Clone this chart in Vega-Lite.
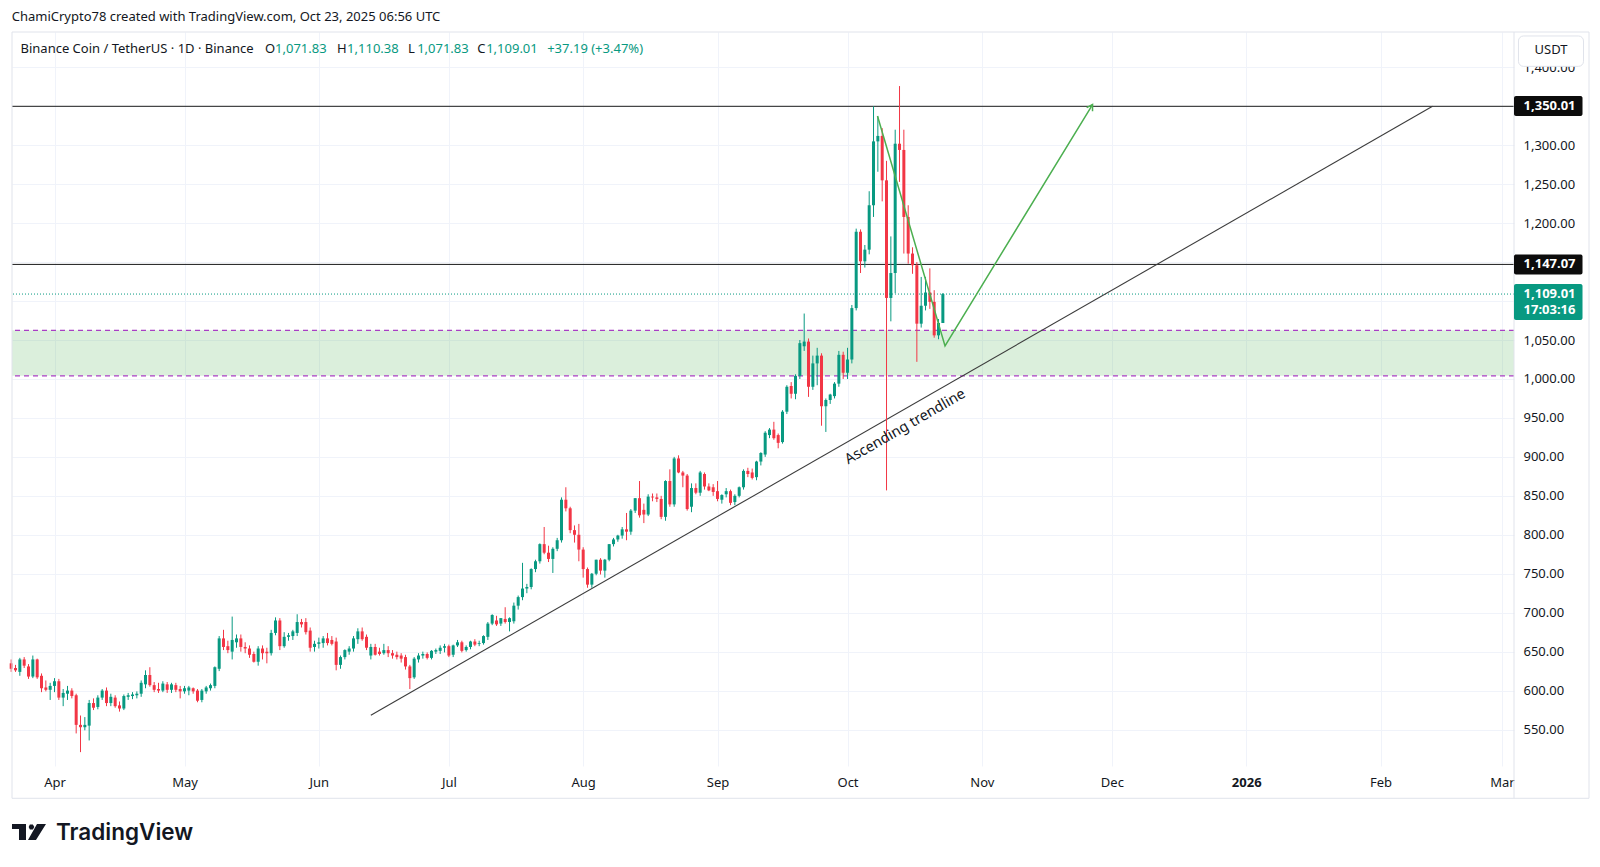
{
  "$schema": "https://vega.github.io/schema/vega-lite/v6.json",
  "width": 1502,
  "height": 734,
  "autosize": "none",
  "padding": {"left": 12, "top": 32, "right": 86, "bottom": 101},
  "background": "white",
  "config": {
    "view": {"stroke": null},
    "font": "Noto Sans",
    "scale": {"continuousPadding": 0},
    "axis": {"gridColor": "#f0f3fa", "ticks": false, "domain": false, "labelColor": "#131722", "labelFontSize": 13, "labelFont": "Noto Sans"},
    "axisY": {"orient": "right"}
  },
  "datasets": {
    "candles": [
      {"d":"2025-03-22","o":635,"h":640,"l":624,"c":628},
      {"d":"2025-03-23","o":629,"h":633,"l":624,"c":626},
      {"d":"2025-03-24","o":624,"h":642,"l":619,"c":640},
      {"d":"2025-03-25","o":640,"h":643,"l":629,"c":632},
      {"d":"2025-03-26","o":631,"h":634,"l":615,"c":618},
      {"d":"2025-03-27","o":618,"h":645,"l":616,"c":640},
      {"d":"2025-03-28","o":640,"h":641,"l":615,"c":617},
      {"d":"2025-03-29","o":619,"h":622,"l":598,"c":603},
      {"d":"2025-03-30","o":604,"h":613,"l":599,"c":601},
      {"d":"2025-03-31","o":601,"h":610,"l":588,"c":606},
      {"d":"2025-04-01","o":606,"h":616,"l":598,"c":612},
      {"d":"2025-04-02","o":612,"h":615,"l":588,"c":591},
      {"d":"2025-04-03","o":591,"h":602,"l":580,"c":597},
      {"d":"2025-04-04","o":596,"h":606,"l":588,"c":600},
      {"d":"2025-04-05","o":600,"h":603,"l":590,"c":593},
      {"d":"2025-04-06","o":594,"h":596,"l":545,"c":556},
      {"d":"2025-04-07","o":556,"h":568,"l":521,"c":553},
      {"d":"2025-04-08","o":553,"h":566,"l":549,"c":556},
      {"d":"2025-04-09","o":555,"h":588,"l":536,"c":584},
      {"d":"2025-04-10","o":584,"h":590,"l":575,"c":578},
      {"d":"2025-04-11","o":579,"h":594,"l":576,"c":591},
      {"d":"2025-04-12","o":591,"h":602,"l":588,"c":600},
      {"d":"2025-04-13","o":600,"h":604,"l":580,"c":584},
      {"d":"2025-04-14","o":584,"h":596,"l":580,"c":592},
      {"d":"2025-04-15","o":591,"h":594,"l":578,"c":580},
      {"d":"2025-04-16","o":581,"h":586,"l":573,"c":577},
      {"d":"2025-04-17","o":577,"h":595,"l":575,"c":593},
      {"d":"2025-04-18","o":592,"h":597,"l":588,"c":594},
      {"d":"2025-04-19","o":593,"h":598,"l":589,"c":595},
      {"d":"2025-04-20","o":594,"h":599,"l":590,"c":596},
      {"d":"2025-04-21","o":596,"h":613,"l":592,"c":610},
      {"d":"2025-04-22","o":608,"h":626,"l":603,"c":620},
      {"d":"2025-04-23","o":620,"h":630,"l":605,"c":607},
      {"d":"2025-04-24","o":607,"h":611,"l":598,"c":601},
      {"d":"2025-04-25","o":602,"h":610,"l":597,"c":600},
      {"d":"2025-04-26","o":600,"h":612,"l":598,"c":609},
      {"d":"2025-04-27","o":608,"h":611,"l":597,"c":601},
      {"d":"2025-04-28","o":601,"h":610,"l":597,"c":608},
      {"d":"2025-04-29","o":607,"h":610,"l":598,"c":601},
      {"d":"2025-04-30","o":602,"h":606,"l":590,"c":599},
      {"d":"2025-05-01","o":599,"h":606,"l":596,"c":603},
      {"d":"2025-05-02","o":600,"h":606,"l":594,"c":604},
      {"d":"2025-05-03","o":603,"h":604,"l":596,"c":599},
      {"d":"2025-05-04","o":600,"h":602,"l":585,"c":587},
      {"d":"2025-05-05","o":588,"h":602,"l":585,"c":600},
      {"d":"2025-05-06","o":599,"h":606,"l":596,"c":604},
      {"d":"2025-05-07","o":603,"h":609,"l":600,"c":607},
      {"d":"2025-05-08","o":606,"h":631,"l":603,"c":630},
      {"d":"2025-05-09","o":628,"h":670,"l":625,"c":667},
      {"d":"2025-05-10","o":667,"h":678,"l":652,"c":656},
      {"d":"2025-05-11","o":657,"h":664,"l":648,"c":652},
      {"d":"2025-05-12","o":650,"h":695,"l":640,"c":665},
      {"d":"2025-05-13","o":662,"h":672,"l":655,"c":667},
      {"d":"2025-05-14","o":667,"h":672,"l":650,"c":656},
      {"d":"2025-05-15","o":656,"h":662,"l":648,"c":654},
      {"d":"2025-05-16","o":654,"h":658,"l":642,"c":646},
      {"d":"2025-05-17","o":647,"h":650,"l":636,"c":637},
      {"d":"2025-05-18","o":637,"h":657,"l":632,"c":654},
      {"d":"2025-05-19","o":654,"h":658,"l":640,"c":648},
      {"d":"2025-05-20","o":650,"h":655,"l":635,"c":648},
      {"d":"2025-05-21","o":648,"h":678,"l":645,"c":674},
      {"d":"2025-05-22","o":674,"h":694,"l":671,"c":690},
      {"d":"2025-05-23","o":690,"h":693,"l":652,"c":657},
      {"d":"2025-05-24","o":657,"h":675,"l":655,"c":669},
      {"d":"2025-05-25","o":669,"h":674,"l":664,"c":671},
      {"d":"2025-05-26","o":670,"h":678,"l":665,"c":676},
      {"d":"2025-05-27","o":674,"h":698,"l":670,"c":688},
      {"d":"2025-05-28","o":688,"h":692,"l":681,"c":685},
      {"d":"2025-05-29","o":688,"h":693,"l":672,"c":675},
      {"d":"2025-05-30","o":677,"h":681,"l":650,"c":655},
      {"d":"2025-05-31","o":656,"h":664,"l":650,"c":660},
      {"d":"2025-06-01","o":660,"h":668,"l":654,"c":662},
      {"d":"2025-06-02","o":661,"h":670,"l":655,"c":667},
      {"d":"2025-06-03","o":667,"h":674,"l":658,"c":661},
      {"d":"2025-06-04","o":665,"h":670,"l":658,"c":660},
      {"d":"2025-06-05","o":663,"h":668,"l":626,"c":633},
      {"d":"2025-06-06","o":633,"h":645,"l":628,"c":643},
      {"d":"2025-06-07","o":643,"h":653,"l":640,"c":652},
      {"d":"2025-06-08","o":650,"h":657,"l":646,"c":654},
      {"d":"2025-06-09","o":654,"h":670,"l":650,"c":667},
      {"d":"2025-06-10","o":666,"h":680,"l":660,"c":676},
      {"d":"2025-06-11","o":676,"h":681,"l":664,"c":666},
      {"d":"2025-06-12","o":669,"h":672,"l":652,"c":655},
      {"d":"2025-06-13","o":645,"h":660,"l":640,"c":656},
      {"d":"2025-06-14","o":656,"h":660,"l":645,"c":646},
      {"d":"2025-06-15","o":650,"h":655,"l":645,"c":647},
      {"d":"2025-06-16","o":648,"h":660,"l":646,"c":652},
      {"d":"2025-06-17","o":652,"h":657,"l":643,"c":648},
      {"d":"2025-06-18","o":648,"h":652,"l":641,"c":645},
      {"d":"2025-06-19","o":646,"h":650,"l":640,"c":643},
      {"d":"2025-06-20","o":645,"h":648,"l":636,"c":641},
      {"d":"2025-06-21","o":643,"h":646,"l":627,"c":631},
      {"d":"2025-06-22","o":631,"h":633,"l":602,"c":616},
      {"d":"2025-06-23","o":617,"h":643,"l":615,"c":641},
      {"d":"2025-06-24","o":640,"h":648,"l":636,"c":645},
      {"d":"2025-06-25","o":645,"h":650,"l":641,"c":647},
      {"d":"2025-06-26","o":647,"h":649,"l":640,"c":642},
      {"d":"2025-06-27","o":642,"h":652,"l":640,"c":651},
      {"d":"2025-06-28","o":650,"h":654,"l":647,"c":652},
      {"d":"2025-06-29","o":651,"h":658,"l":647,"c":655},
      {"d":"2025-06-30","o":655,"h":660,"l":649,"c":657},
      {"d":"2025-07-01","o":657,"h":659,"l":643,"c":645},
      {"d":"2025-07-02","o":646,"h":659,"l":643,"c":658},
      {"d":"2025-07-03","o":658,"h":665,"l":656,"c":662},
      {"d":"2025-07-04","o":662,"h":664,"l":649,"c":651},
      {"d":"2025-07-05","o":652,"h":658,"l":650,"c":656},
      {"d":"2025-07-06","o":656,"h":664,"l":653,"c":663},
      {"d":"2025-07-07","o":663,"h":666,"l":657,"c":659},
      {"d":"2025-07-08","o":660,"h":664,"l":657,"c":661},
      {"d":"2025-07-09","o":661,"h":671,"l":659,"c":670},
      {"d":"2025-07-10","o":669,"h":688,"l":665,"c":686},
      {"d":"2025-07-11","o":686,"h":698,"l":684,"c":697},
      {"d":"2025-07-12","o":690,"h":696,"l":683,"c":685},
      {"d":"2025-07-13","o":686,"h":693,"l":683,"c":693},
      {"d":"2025-07-14","o":692,"h":707,"l":686,"c":688},
      {"d":"2025-07-15","o":688,"h":694,"l":676,"c":693},
      {"d":"2025-07-16","o":689,"h":713,"l":686,"c":709},
      {"d":"2025-07-17","o":709,"h":722,"l":704,"c":720},
      {"d":"2025-07-18","o":720,"h":764,"l":716,"c":731},
      {"d":"2025-07-19","o":731,"h":737,"l":725,"c":733},
      {"d":"2025-07-20","o":733,"h":757,"l":730,"c":756},
      {"d":"2025-07-21","o":756,"h":768,"l":752,"c":766},
      {"d":"2025-07-22","o":766,"h":789,"l":763,"c":788},
      {"d":"2025-07-23","o":788,"h":810,"l":775,"c":777},
      {"d":"2025-07-24","o":777,"h":786,"l":765,"c":769},
      {"d":"2025-07-25","o":769,"h":784,"l":751,"c":782},
      {"d":"2025-07-26","o":782,"h":796,"l":779,"c":793},
      {"d":"2025-07-27","o":793,"h":848,"l":790,"c":845},
      {"d":"2025-07-28","o":845,"h":861,"l":830,"c":834},
      {"d":"2025-07-29","o":834,"h":836,"l":802,"c":806},
      {"d":"2025-07-30","o":806,"h":812,"l":790,"c":800},
      {"d":"2025-07-31","o":800,"h":814,"l":766,"c":781},
      {"d":"2025-08-01","o":781,"h":784,"l":745,"c":756},
      {"d":"2025-08-02","o":756,"h":758,"l":732,"c":736},
      {"d":"2025-08-03","o":736,"h":751,"l":732,"c":750},
      {"d":"2025-08-04","o":750,"h":768,"l":748,"c":768},
      {"d":"2025-08-05","o":768,"h":770,"l":749,"c":754},
      {"d":"2025-08-06","o":754,"h":769,"l":745,"c":768},
      {"d":"2025-08-07","o":768,"h":788,"l":766,"c":788},
      {"d":"2025-08-08","o":788,"h":796,"l":785,"c":794},
      {"d":"2025-08-09","o":794,"h":800,"l":791,"c":799},
      {"d":"2025-08-10","o":799,"h":810,"l":795,"c":807},
      {"d":"2025-08-11","o":807,"h":828,"l":793,"c":804},
      {"d":"2025-08-12","o":804,"h":833,"l":800,"c":831},
      {"d":"2025-08-13","o":831,"h":847,"l":828,"c":847},
      {"d":"2025-08-14","o":847,"h":869,"l":822,"c":825},
      {"d":"2025-08-15","o":832,"h":840,"l":815,"c":826},
      {"d":"2025-08-16","o":826,"h":852,"l":824,"c":849},
      {"d":"2025-08-17","o":849,"h":853,"l":843,"c":848},
      {"d":"2025-08-18","o":848,"h":853,"l":842,"c":846},
      {"d":"2025-08-19","o":846,"h":850,"l":820,"c":823},
      {"d":"2025-08-20","o":823,"h":870,"l":818,"c":869},
      {"d":"2025-08-21","o":869,"h":884,"l":836,"c":839},
      {"d":"2025-08-22","o":839,"h":900,"l":836,"c":898},
      {"d":"2025-08-23","o":898,"h":902,"l":879,"c":880},
      {"d":"2025-08-24","o":880,"h":882,"l":861,"c":876},
      {"d":"2025-08-25","o":876,"h":878,"l":831,"c":833},
      {"d":"2025-08-26","o":836,"h":866,"l":829,"c":860},
      {"d":"2025-08-27","o":860,"h":866,"l":852,"c":854},
      {"d":"2025-08-28","o":854,"h":882,"l":850,"c":880},
      {"d":"2025-08-29","o":878,"h":880,"l":858,"c":862},
      {"d":"2025-08-30","o":862,"h":866,"l":856,"c":857},
      {"d":"2025-08-31","o":861,"h":865,"l":850,"c":855},
      {"d":"2025-09-01","o":856,"h":869,"l":843,"c":846},
      {"d":"2025-09-02","o":845,"h":852,"l":840,"c":851},
      {"d":"2025-09-03","o":852,"h":860,"l":848,"c":856},
      {"d":"2025-09-04","o":856,"h":858,"l":838,"c":841},
      {"d":"2025-09-05","o":842,"h":852,"l":838,"c":850},
      {"d":"2025-09-06","o":850,"h":862,"l":848,"c":861},
      {"d":"2025-09-07","o":861,"h":884,"l":858,"c":882},
      {"d":"2025-09-08","o":882,"h":886,"l":874,"c":878},
      {"d":"2025-09-09","o":880,"h":885,"l":871,"c":873},
      {"d":"2025-09-10","o":874,"h":895,"l":870,"c":894},
      {"d":"2025-09-11","o":894,"h":906,"l":889,"c":905},
      {"d":"2025-09-12","o":903,"h":933,"l":900,"c":931},
      {"d":"2025-09-13","o":928,"h":937,"l":924,"c":935},
      {"d":"2025-09-14","o":935,"h":945,"l":922,"c":924},
      {"d":"2025-09-15","o":928,"h":930,"l":911,"c":918},
      {"d":"2025-09-16","o":919,"h":960,"l":917,"c":958},
      {"d":"2025-09-17","o":958,"h":992,"l":955,"c":990},
      {"d":"2025-09-18","o":991,"h":996,"l":975,"c":981},
      {"d":"2025-09-19","o":981,"h":1006,"l":974,"c":1004},
      {"d":"2025-09-20","o":1004,"h":1050,"l":1000,"c":1046},
      {"d":"2025-09-21","o":1042,"h":1084,"l":1036,"c":1048},
      {"d":"2025-09-22","o":1048,"h":1052,"l":977,"c":990},
      {"d":"2025-09-23","o":990,"h":1030,"l":986,"c":1020},
      {"d":"2025-09-24","o":1020,"h":1040,"l":992,"c":1030},
      {"d":"2025-09-25","o":1030,"h":1033,"l":940,"c":965},
      {"d":"2025-09-26","o":965,"h":975,"l":932,"c":973},
      {"d":"2025-09-27","o":973,"h":981,"l":968,"c":980},
      {"d":"2025-09-28","o":978,"h":996,"l":975,"c":994},
      {"d":"2025-09-29","o":994,"h":1036,"l":990,"c":1031},
      {"d":"2025-09-30","o":1031,"h":1035,"l":1000,"c":1008},
      {"d":"2025-10-01","o":1008,"h":1040,"l":1000,"c":1025},
      {"d":"2025-10-02","o":1025,"h":1095,"l":1020,"c":1091},
      {"d":"2025-10-03","o":1091,"h":1193,"l":1088,"c":1189},
      {"d":"2025-10-04","o":1189,"h":1192,"l":1136,"c":1151},
      {"d":"2025-10-05","o":1151,"h":1172,"l":1143,"c":1166},
      {"d":"2025-10-06","o":1166,"h":1241,"l":1160,"c":1223},
      {"d":"2025-10-07","o":1223,"h":1350,"l":1208,"c":1305},
      {"d":"2025-10-08","o":1305,"h":1337,"l":1266,"c":1312},
      {"d":"2025-10-09","o":1312,"h":1322,"l":1228,"c":1255},
      {"d":"2025-10-10","o":1255,"h":1280,"l":857,"c":1104},
      {"d":"2025-10-11","o":1104,"h":1183,"l":1074,"c":1136},
      {"d":"2025-10-12","o":1136,"h":1320,"l":1110,"c":1302},
      {"d":"2025-10-13","o":1302,"h":1376,"l":1253,"c":1294},
      {"d":"2025-10-14","o":1294,"h":1320,"l":1161,"c":1208},
      {"d":"2025-10-15","o":1208,"h":1223,"l":1148,"c":1161},
      {"d":"2025-10-16","o":1161,"h":1169,"l":1135,"c":1146},
      {"d":"2025-10-17","o":1146,"h":1150,"l":1022,"c":1071},
      {"d":"2025-10-18","o":1071,"h":1131,"l":1066,"c":1094},
      {"d":"2025-10-19","o":1094,"h":1131,"l":1088,"c":1111},
      {"d":"2025-10-20","o":1111,"h":1142,"l":1090,"c":1099},
      {"d":"2025-10-21","o":1099,"h":1114,"l":1053,"c":1056},
      {"d":"2025-10-22","o":1056,"h":1077,"l":1051,"c":1072},
      {"d":"2025-10-23","o":1071.83,"h":1110.38,"l":1071.83,"c":1109.01}
    ],
    "zone": [{"top": 1062.5, "bottom": 1004}],
    "zoneEdges": [{"price": 1062.5}, {"price": 1004}],
    "levels": [{"price": 1350.01}, {"price": 1147.07}],
    "trend": [
      {"date": "2025-06-13T00:00:00Z", "price": 568.3},
      {"date": "2026-02-13T00:00:00Z", "price": 1350.01}
    ],
    "projection": [
      {"i": 0, "date": "2025-10-07T22:00:00Z", "price": 1337.6},
      {"i": 1, "date": "2025-10-23T12:00:00Z", "price": 1042.5},
      {"i": 2, "date": "2025-11-26T13:00:00Z", "price": 1352.3}
    ]
  },
  "layer": [
    {
      "data": {"name": "candles"},
      "mark": {"type": "rule", "opacity": 0},
      "encoding": {
        "x": {
          "field": "d", "type": "temporal",
          "scale": {
            "type": "utc", "nice": false, "padding": 0,
            "domain": [
              {"year": 2025, "month": 3, "date": 22, "hours": 4, "minutes": 34, "utc": true},
              {"year": 2026, "month": 3, "date": 3, "hours": 19, "minutes": 12, "utc": true}
            ]
          },
          "axis": {
            "title": null, "orient": "bottom", "zindex": 0,
            "values": [
              {"year": 2025, "month": 4, "date": 1, "utc": true},
              {"year": 2025, "month": 5, "date": 1, "utc": true},
              {"year": 2025, "month": 6, "date": 1, "utc": true},
              {"year": 2025, "month": 7, "date": 1, "utc": true},
              {"year": 2025, "month": 8, "date": 1, "utc": true},
              {"year": 2025, "month": 9, "date": 1, "utc": true},
              {"year": 2025, "month": 10, "date": 1, "utc": true},
              {"year": 2025, "month": 11, "date": 1, "utc": true},
              {"year": 2025, "month": 12, "date": 1, "utc": true},
              {"year": 2026, "month": 1, "date": 1, "utc": true},
              {"year": 2026, "month": 2, "date": 1, "utc": true},
              {"year": 2026, "month": 3, "date": 1, "utc": true}
            ],
            "labelExpr": "utcmonth(datum.value) === 0 ? utcFormat(datum.value, '%Y') : utcFormat(datum.value, '%b')",
            "labelFontWeight": {"condition": {"test": "utcmonth(datum.value) === 0", "value": "bold"}, "value": "normal"},
            "grid": true, "gridColor": "#f0f3fa", "ticks": false, "domain": false,
            "labelPadding": 10, "labelFontSize": 13, "labelColor": "#131722", "labelFont": "Noto Sans",
            "labelOverlap": false, "labelFlush": false
          }
        },
        "y": {
          "field": "l", "type": "quantitative",
          "scale": {"domain": [503.2, 1445.4], "nice": false, "zero": false, "padding": 0},
          "axis": {
            "title": null, "orient": "right", "zindex": 0,
            "values": [550, 600, 650, 700, 750, 800, 850, 900, 950, 1000, 1050, 1100, 1150, 1200, 1250, 1300, 1350, 1400],
            "format": ",.2f",
            "labelExpr": "indexof([1100, 1150, 1350], datum.value) >= 0 ? '' : datum.label",
            "grid": true, "gridColor": "#f0f3fa", "ticks": false, "domain": false,
            "labelPadding": 9, "labelFontSize": 13, "labelColor": "#131722", "labelFont": "Noto Sans",
            "labelOverlap": false, "labelFlush": false
          }
        },
        "y2": {"field": "h"}
      }
    },
    {
      "data": {"name": "zone"},
      "mark": {"type": "rect", "color": "#4caf50", "opacity": 0.2},
      "encoding": {
        "y": {"field": "top", "type": "quantitative", "axis": {"title": null}},
        "y2": {"field": "bottom"}
      }
    },
    {
      "data": {"name": "zoneEdges"},
      "mark": {"type": "rule", "color": "#a93fc4", "strokeDash": [5, 4], "strokeWidth": 1.2},
      "encoding": {"y": {"field": "price", "type": "quantitative", "axis": {"title": null}}}
    },
    {
      "data": {"name": "levels"},
      "mark": {"type": "rule", "color": "#1b1b1b", "strokeWidth": 1},
      "encoding": {"y": {"field": "price", "type": "quantitative", "axis": {"title": null}}}
    },
    {
      "data": {"values": [{"price": 1109.01}]},
      "mark": {"type": "rule", "color": "#089981", "strokeDash": [1, 2], "strokeWidth": 1},
      "encoding": {"y": {"field": "price", "type": "quantitative", "axis": {"title": null}}}
    },
    {
      "data": {"name": "trend"},
      "mark": {"type": "line", "color": "#3c3c3c", "strokeWidth": 1.1},
      "encoding": {
        "x": {"field": "date", "type": "temporal", "axis": {"title": null}},
        "y": {"field": "price", "type": "quantitative", "axis": {"title": null}}
      }
    },
    {
      "data": {"name": "candles"},
      "mark": {"type": "rule", "strokeWidth": 1},
      "encoding": {
        "x": {"field": "d", "type": "temporal", "axis": {"title": null}},
        "y": {"field": "l", "type": "quantitative", "axis": {"title": null}},
        "y2": {"field": "h"},
        "color": {"condition": {"test": "datum.c >= datum.o", "value": "#089981"}, "value": "#f23645"}
      }
    },
    {
      "data": {"name": "candles"},
      "mark": {"type": "bar", "size": 3},
      "encoding": {
        "x": {"field": "d", "type": "temporal", "axis": {"title": null}},
        "y": {"field": "o", "type": "quantitative", "axis": {"title": null}},
        "y2": {"field": "c"},
        "color": {"condition": {"test": "datum.c >= datum.o", "value": "#089981"}, "value": "#f23645"}
      }
    },
    {
      "data": {"name": "projection"},
      "mark": {"type": "line", "color": "#4caf50", "strokeWidth": 1.5},
      "encoding": {
        "x": {"field": "date", "type": "temporal", "axis": {"title": null}},
        "y": {"field": "price", "type": "quantitative", "axis": {"title": null}},
        "order": {"field": "i"}
      }
    },
    {
      "data": {"name": "projection"},
      "transform": [{"filter": "datum.i == 2"}],
      "mark": {
        "type": "point", "shape": "M-0.6,1L0,0L0.6,1", "size": 130, "angle": 31,
        "filled": false, "stroke": "#4caf50", "strokeWidth": 1.5, "opacity": 1
      },
      "encoding": {
        "x": {"field": "date", "type": "temporal", "axis": {"title": null}},
        "y": {"field": "price", "type": "quantitative", "axis": {"title": null}}
      }
    },
    {
      "data": {"values": [{}]},
      "mark": {
        "type": "text", "text": "Ascending trendline", "angle": -30, "fontSize": 14.5,
        "color": "#131722", "align": "center", "baseline": "middle", "font": "Noto Sans"
      },
      "encoding": {
        "x": {"datum": {"year": 2025, "month": 10, "date": 14, "hours": 8, "utc": true}, "type": "temporal", "axis": {"title": null}},
        "y": {"datum": 938.4, "type": "quantitative", "axis": {"title": null}}
      }
    },
    {
      "data": {"values": [{}]},
      "mark": {"type": "text", "text": "ChamiCrypto78 created with TradingView.com, Oct 23, 2025 06:56 UTC", "align": "left", "baseline": "alphabetic", "fontSize": 13, "color": "#131722"},
      "encoding": {
        "x": {"datum": {"year": 2025, "month": 3, "date": 22, "hours": 2, "minutes": 52, "utc": true}, "type": "temporal", "axis": {"title": null}},
        "y": {"datum": 1459.2, "type": "quantitative", "axis": {"title": null}}
      }
    },
    {
      "data": {"values": [{}]},
      "encoding": {"y": {"datum": 1418.1, "type": "quantitative", "axis": {"title": null}}},
      "layer": [
        {
          "mark": {"type": "text", "text": "Binance Coin / TetherUS · 1D · Binance", "align": "left", "baseline": "alphabetic", "fontSize": 13, "color": "#131722"},
          "encoding": {"x": {"datum": {"year": 2025, "month": 3, "date": 24, "hours": 3, "minutes": 37, "utc": true}, "type": "temporal", "axis": {"title": null}}}
        },
        {
          "mark": {"type": "text", "text": "O", "align": "left", "baseline": "alphabetic", "fontSize": 13, "color": "#131722"},
          "encoding": {"x": {"datum": {"year": 2025, "month": 5, "date": 19, "hours": 14, "minutes": 10, "utc": true}, "type": "temporal", "axis": {"title": null}}}
        },
        {
          "mark": {"type": "text", "text": "1,071.83", "align": "left", "baseline": "alphabetic", "fontSize": 13, "color": "#089981"},
          "encoding": {"x": {"datum": {"year": 2025, "month": 5, "date": 21, "hours": 21, "minutes": 36, "utc": true}, "type": "temporal", "axis": {"title": null}}}
        },
        {
          "mark": {"type": "text", "text": "H", "align": "left", "baseline": "alphabetic", "fontSize": 13, "color": "#131722"},
          "encoding": {"x": {"datum": {"year": 2025, "month": 6, "date": 5, "hours": 5, "utc": true}, "type": "temporal", "axis": {"title": null}}}
        },
        {
          "mark": {"type": "text", "text": "1,110.38", "align": "left", "baseline": "alphabetic", "fontSize": 13, "color": "#089981"},
          "encoding": {"x": {"datum": {"year": 2025, "month": 6, "date": 7, "hours": 12, "minutes": 29, "utc": true}, "type": "temporal", "axis": {"title": null}}}
        },
        {
          "mark": {"type": "text", "text": "L", "align": "left", "baseline": "alphabetic", "fontSize": 13, "color": "#131722"},
          "encoding": {"x": {"datum": {"year": 2025, "month": 6, "date": 21, "hours": 14, "minutes": 24, "utc": true}, "type": "temporal", "axis": {"title": null}}}
        },
        {
          "mark": {"type": "text", "text": "1,071.83", "align": "left", "baseline": "alphabetic", "fontSize": 13, "color": "#089981"},
          "encoding": {"x": {"datum": {"year": 2025, "month": 6, "date": 23, "hours": 16, "minutes": 19, "utc": true}, "type": "temporal", "axis": {"title": null}}}
        },
        {
          "mark": {"type": "text", "text": "C", "align": "left", "baseline": "alphabetic", "fontSize": 13, "color": "#131722"},
          "encoding": {"x": {"datum": {"year": 2025, "month": 7, "date": 7, "hours": 12, "minutes": 43, "utc": true}, "type": "temporal", "axis": {"title": null}}}
        },
        {
          "mark": {"type": "text", "text": "1,109.01", "align": "left", "baseline": "alphabetic", "fontSize": 13, "color": "#089981"},
          "encoding": {"x": {"datum": {"year": 2025, "month": 7, "date": 9, "hours": 14, "minutes": 38, "utc": true}, "type": "temporal", "axis": {"title": null}}}
        },
        {
          "mark": {"type": "text", "text": "+37.19 (+3.47%)", "align": "left", "baseline": "alphabetic", "fontSize": 13, "color": "#089981"},
          "encoding": {"x": {"datum": {"year": 2025, "month": 7, "date": 23, "hours": 16, "minutes": 34, "utc": true}, "type": "temporal", "axis": {"title": null}}}
        }
      ]
    },
    {
      "data": {"values": [{}]},
      "layer": [
        {
          "mark": {"type": "rule", "color": "#e0e3eb", "strokeWidth": 1},
          "encoding": {
            "x": {"datum": {"year": 2025, "month": 3, "date": 22, "hours": 4, "minutes": 34, "utc": true}, "type": "temporal", "axis": {"title": null}},
            "y": {"datum": 1445.4, "type": "quantitative", "axis": {"title": null}},
            "y2": {"datum": 461.75}
          }
        },
        {
          "mark": {"type": "rule", "color": "#e0e3eb", "strokeWidth": 1},
          "encoding": {
            "x": {"datum": {"year": 2026, "month": 3, "date": 21, "hours": 2, "minutes": 38, "utc": true}, "type": "temporal", "axis": {"title": null}},
            "y": {"datum": 1445.4, "type": "quantitative", "axis": {"title": null}},
            "y2": {"datum": 461.75}
          }
        },
        {
          "mark": {"type": "rule", "color": "#e0e3eb", "strokeWidth": 1},
          "encoding": {
            "x": {"datum": {"year": 2025, "month": 3, "date": 22, "hours": 4, "minutes": 34, "utc": true}, "type": "temporal", "axis": {"title": null}},
            "x2": {"datum": {"year": 2026, "month": 3, "date": 21, "hours": 2, "minutes": 38, "utc": true}},
            "y": {"datum": 1445.4, "type": "quantitative", "axis": {"title": null}}
          }
        },
        {
          "mark": {"type": "rule", "color": "#e0e3eb", "strokeWidth": 1},
          "encoding": {
            "x": {"datum": {"year": 2025, "month": 3, "date": 22, "hours": 4, "minutes": 34, "utc": true}, "type": "temporal", "axis": {"title": null}},
            "x2": {"datum": {"year": 2026, "month": 3, "date": 21, "hours": 2, "minutes": 38, "utc": true}},
            "y": {"datum": 461.75, "type": "quantitative", "axis": {"title": null}}
          }
        },
        {
          "mark": {"type": "rule", "color": "#e0e3eb", "strokeWidth": 1},
          "encoding": {
            "x": {"datum": {"year": 2026, "month": 3, "date": 3, "hours": 19, "minutes": 12, "utc": true}, "type": "temporal", "axis": {"title": null}},
            "y": {"datum": 1445.4, "type": "quantitative", "axis": {"title": null}},
            "y2": {"datum": 461.75}
          }
        },
        {
          "mark": {"type": "rect", "fill": "#ffffff", "stroke": "#e0e3eb", "strokeWidth": 1, "cornerRadius": 5},
          "encoding": {
            "x": {"datum": {"year": 2026, "month": 3, "date": 4, "hours": 19, "minutes": 55, "utc": true}, "type": "temporal", "axis": {"title": null}},
            "x2": {"datum": {"year": 2026, "month": 3, "date": 19, "hours": 20, "minutes": 10, "utc": true}},
            "y": {"datum": 1440.3, "type": "quantitative", "axis": {"title": null}},
            "y2": {"datum": 1401.3}
          }
        },
        {
          "mark": {"type": "text", "text": "USDT", "fontSize": 13, "color": "#131722", "align": "center", "baseline": "middle"},
          "encoding": {
            "x": {"datum": {"year": 2026, "month": 3, "date": 12, "hours": 8, "minutes": 10, "utc": true}, "type": "temporal", "axis": {"title": null}},
            "y": {"datum": 1422.2, "type": "quantitative", "axis": {"title": null}}
          }
        },
        {
          "mark": {"type": "rect", "fill": "#0c0c0c", "cornerRadius": 2},
          "encoding": {
            "x": {"datum": {"year": 2026, "month": 3, "date": 3, "hours": 19, "minutes": 12, "utc": true}, "type": "temporal", "axis": {"title": null}},
            "x2": {"datum": {"year": 2026, "month": 3, "date": 19, "hours": 14, "minutes": 38, "utc": true}},
            "y": {"datum": 1363.3, "type": "quantitative", "axis": {"title": null}},
            "y2": {"datum": 1337.6}
          }
        },
        {
          "mark": {"type": "text", "text": "1,350.01", "fontSize": 13, "fontWeight": "bold", "color": "#ffffff", "align": "center", "baseline": "middle"},
          "encoding": {
            "x": {"datum": {"year": 2026, "month": 3, "date": 12, "utc": true}, "type": "temporal", "axis": {"title": null}},
            "y": {"datum": 1350.01, "type": "quantitative", "axis": {"title": null}}
          }
        },
        {
          "mark": {"type": "rect", "fill": "#0c0c0c", "cornerRadius": 2},
          "encoding": {
            "x": {"datum": {"year": 2026, "month": 3, "date": 3, "hours": 19, "minutes": 12, "utc": true}, "type": "temporal", "axis": {"title": null}},
            "x2": {"datum": {"year": 2026, "month": 3, "date": 19, "hours": 14, "minutes": 38, "utc": true}},
            "y": {"datum": 1159.9, "type": "quantitative", "axis": {"title": null}},
            "y2": {"datum": 1134.2}
          }
        },
        {
          "mark": {"type": "text", "text": "1,147.07", "fontSize": 13, "fontWeight": "bold", "color": "#ffffff", "align": "center", "baseline": "middle"},
          "encoding": {
            "x": {"datum": {"year": 2026, "month": 3, "date": 12, "utc": true}, "type": "temporal", "axis": {"title": null}},
            "y": {"datum": 1147.07, "type": "quantitative", "axis": {"title": null}}
          }
        },
        {
          "mark": {"type": "rect", "fill": "#089981", "cornerRadius": 2},
          "encoding": {
            "x": {"datum": {"year": 2026, "month": 3, "date": 3, "hours": 19, "minutes": 12, "utc": true}, "type": "temporal", "axis": {"title": null}},
            "x2": {"datum": {"year": 2026, "month": 3, "date": 19, "hours": 14, "minutes": 38, "utc": true}},
            "y": {"datum": 1122, "type": "quantitative", "axis": {"title": null}},
            "y2": {"datum": 1075.8}
          }
        },
        {
          "mark": {"type": "text", "text": "1,109.01", "fontSize": 13, "fontWeight": "bold", "color": "#ffffff", "align": "center", "baseline": "middle"},
          "encoding": {
            "x": {"datum": {"year": 2026, "month": 3, "date": 12, "utc": true}, "type": "temporal", "axis": {"title": null}},
            "y": {"datum": 1109.01, "type": "quantitative", "axis": {"title": null}}
          }
        },
        {
          "mark": {"type": "text", "text": "17:03:16", "fontSize": 13, "fontWeight": "bold", "color": "#ffffff", "align": "center", "baseline": "middle"},
          "encoding": {
            "x": {"datum": {"year": 2026, "month": 3, "date": 12, "utc": true}, "type": "temporal", "axis": {"title": null}},
            "y": {"datum": 1088.6, "type": "quantitative", "axis": {"title": null}}
          }
        },
        {
          "mark": {
            "type": "point",
            "shape": "M-1,-0.471L-0.176,-0.471L-0.176,0.471L-0.588,0.471L-0.588,-0.176L-1,-0.176Z M-0.018,-0.294L0.051,-0.446L0.229,-0.446L0.312,-0.294L0.229,-0.142L0.051,-0.142Z M0.471,-0.471L1,-0.471L0.412,0.471L-0.059,0.471Z",
            "size": 1156, "filled": true, "fill": "#131722", "strokeWidth": 0, "opacity": 1
          },
          "encoding": {
            "x": {"datum": {"year": 2025, "month": 3, "date": 26, "hours": 2, "minutes": 40, "utc": true}, "type": "temporal", "axis": {"title": null}},
            "y": {"datum": 418.5, "type": "quantitative", "axis": {"title": null}}
          }
        },
        {
          "mark": {"type": "text", "text": "TradingView", "font": "Inter", "fontSize": 22.5, "fontWeight": 600, "color": "#131722", "align": "left", "baseline": "alphabetic"},
          "encoding": {
            "x": {"datum": {"year": 2025, "month": 4, "date": 1, "hours": 8, "minutes": 24, "utc": true}, "type": "temporal", "axis": {"title": null}},
            "y": {"datum": 408.2, "type": "quantitative", "axis": {"title": null}}
          }
        }
      ]
    }
  ]
}
